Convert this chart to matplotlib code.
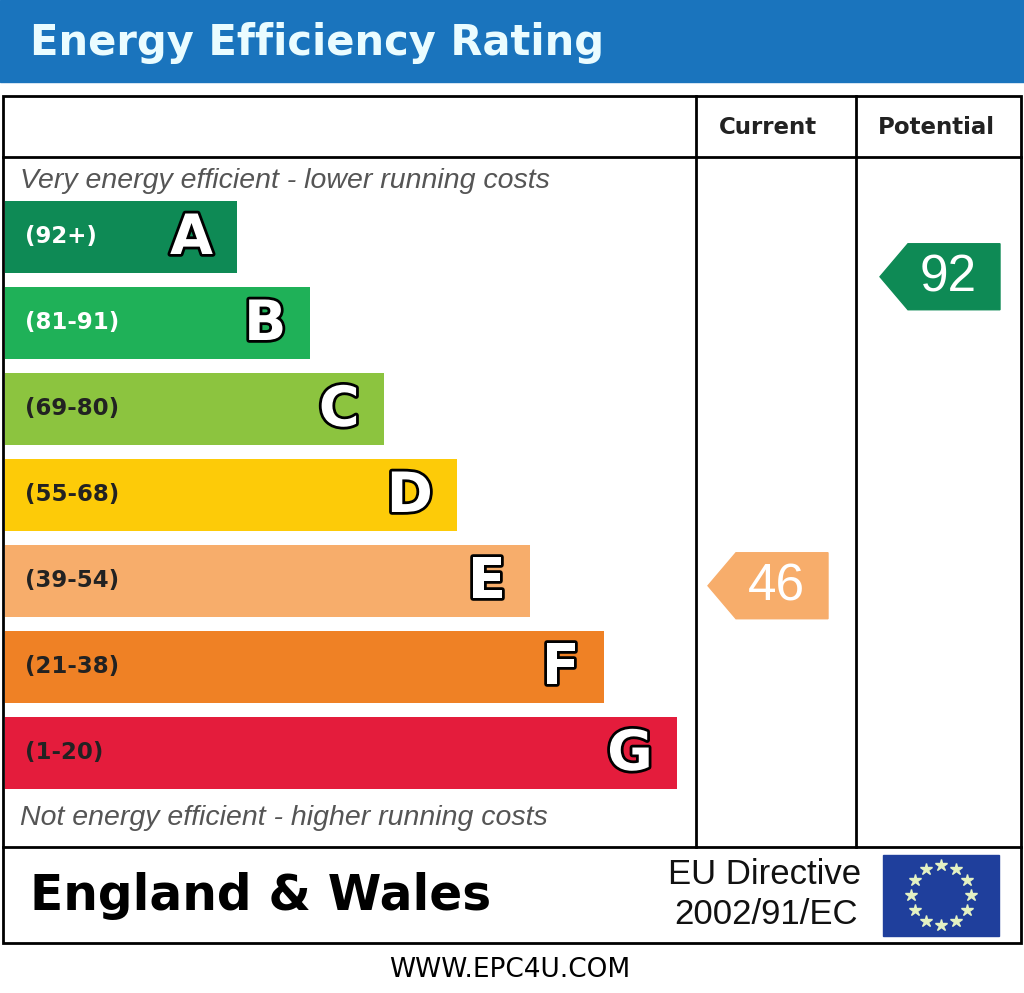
import numpy as np
import matplotlib.pyplot as plt
from matplotlib.patches import Rectangle, Polygon
import matplotlib.patheffects as pe

# EPC band data
bands = ['A', 'B', 'C', 'D', 'E', 'F', 'G']
ranges = ['(92+)', '(81-91)', '(69-80)', '(55-68)', '(39-54)', '(21-38)', '(1-20)']
band_colors = ['#0e8a55', '#1fb158', '#8cc43f', '#fdcb08', '#f7ad6b', '#ef8125', '#e41c3c']
range_text_colors = ['white', 'white', '#222222', '#222222', '#222222', '#222222', '#222222']

current_score = 46
potential_score = 92
score_colors = {'current': '#f7ad6b', 'potential': '#0e8a55'}

fig = plt.figure(figsize=(10.24, 9.93), dpi=100)
ax = fig.add_axes([0, 0, 1, 1])
ax.set_xlim(0, 1024)
ax.set_ylim(993, 0)
ax.axis('off')

# header band
ax.add_patch(Rectangle((0, 0), 1024, 82, color='#1a74bd', zorder=1))
ax.text(30, 43, 'Energy Efficiency Rating', color='#eafcff', fontsize=30,
        fontweight='bold', va='center', ha='left')

# table frame
lw = 2.0
ax.add_patch(Rectangle((3, 96), 1018, 847, fill=False, ec='black', lw=lw, zorder=5))
ax.plot([3, 1021], [157, 157], color='black', lw=lw, zorder=5)
ax.plot([3, 1021], [847, 847], color='black', lw=lw, zorder=5)
ax.plot([696, 696], [96, 847], color='black', lw=lw, zorder=5)
ax.plot([856, 856], [96, 847], color='black', lw=lw, zorder=5)

ax.text(768, 127, 'Current', fontsize=16.5, fontweight='bold', ha='center', va='center',
        color='#222222')
ax.text(936, 127, 'Potential', fontsize=16.5, fontweight='bold', ha='center', va='center',
        color='#222222')

ax.text(20, 181, 'Very energy efficient - lower running costs', fontsize=20.5,
        style='italic', color='#555555', ha='left', va='center',
        family='Liberation Sans')
ax.text(20, 818, 'Not energy efficient - higher running costs', fontsize=20.5,
        style='italic', color='#555555', ha='left', va='center',
        family='Liberation Sans')

# bars
idx = np.arange(len(bands))
centers = 237 + idx * 86
rights = 237 + idx * 73.3
left = 5
ax.barh(centers, rights - left, left=left, height=72, color=band_colors, zorder=2)
for i in idx:
    ax.text(left + 20, centers[i], ranges[i], color=range_text_colors[i], fontsize=16.5,
            fontweight='bold', ha='left', va='center', zorder=3)
    ax.text(rights[i] - 24, centers[i] + 2, bands[i], color='white', fontsize=40,
            fontweight='bold', ha='right', va='center', zorder=3,
            path_effects=[pe.withStroke(linewidth=4, foreground='black')])


# score arrows, placed on a linear score scale
def score_to_y(v):
    return np.interp(v, [1, 100], [888, 223])


def draw_arrow(score, x_tip, x_right, color):
    yc = score_to_y(score)
    h = 66
    x_body = x_tip + 28
    pts = [(x_tip, yc), (x_body, yc - h / 2), (x_right, yc - h / 2),
           (x_right, yc + h / 2), (x_body, yc + h / 2)]
    ax.add_patch(Polygon(pts, closed=True, color=color, zorder=3))
    ax.text((x_body + x_right) / 2 - 6, yc + 1, str(score), color='white', fontsize=37,
            ha='center', va='center', zorder=4, family='Liberation Sans')


draw_arrow(current_score, 708, 828, score_colors['current'])
draw_arrow(potential_score, 880, 1000, score_colors['potential'])

# footer
ax.text(30, 896, 'England & Wales', fontsize=35, fontweight='bold', ha='left', va='center')
ax.text(765, 875, 'EU Directive', fontsize=25, ha='center', va='center',
        family='Liberation Sans', color='#111111')
ax.text(766, 915, '2002/91/EC', fontsize=25, ha='center', va='center',
        family='Liberation Sans', color='#111111')

ax.add_patch(Rectangle((883, 855), 116, 81, color='#1f3f9c', zorder=3))
ang = np.linspace(0, 2 * np.pi, 12, endpoint=False)
ax.plot(941 + 30 * np.cos(ang), 895 + 30 * np.sin(ang), ls='none', marker='*',
        markersize=9, color='#e4f2c4', zorder=4)

ax.text(510, 970, 'WWW.EPC4U.COM', fontsize=19, ha='center', va='center')

fig.savefig('out.png', dpi=100)
